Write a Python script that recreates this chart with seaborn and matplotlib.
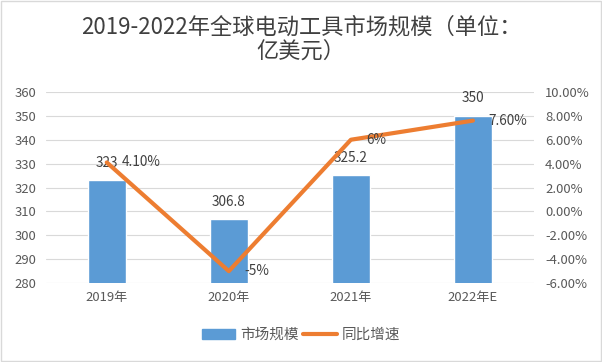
import numpy as np
import pandas as pd
import matplotlib
matplotlib.use("Agg")
import matplotlib.pyplot as plt
import seaborn as sns
from matplotlib.patches import Patch
from matplotlib.lines import Line2D

years = ["2019年", "2020年", "2021年", "2022年E"]
market_size = [323, 306.8, 325.2, 350]
size_labels = ["323", "306.8", "325.2", "350"]
growth = [4.10, -5, 6, 7.60]
growth_labels = ["4.10%", "-5%", "6%", "7.60%"]
left_ticks = [280, 290, 300, 310, 320, 330, 340, 350, 360]
right_ticks = [-6, -4, -2, 0, 2, 4, 6, 8, 10]

sns.set_theme(style="white")
plt.rcParams['font.family'] = ['Noto Sans CJK SC', 'DejaVu Sans']

BLUE = "#5B9BD5"
ORANGE = "#ED7D31"
GRID = "#D9D9D9"
TXT = "#595959"

df = pd.DataFrame({"year": years, "size": market_size, "growth": growth,
                   "pos": np.arange(len(years))})

fig = plt.figure(figsize=(6.02, 3.62), dpi=100)
ax = fig.add_axes([0.076, 0.218, 0.811, 0.528])
ax2 = ax.twinx()

sns.barplot(data=df, x="year", y="size", color=BLUE, width=0.31, ax=ax,
            saturation=1, zorder=2)
ax.set_ylim(280, 360)
ax.set_yticks(left_ticks)
ax.set_xlim(-0.5, 3.5)
ax.grid(axis="y", color=GRID, linewidth=0.8, zorder=0)
ax.set_axisbelow(True)
for s in ax.spines.values():
    s.set_visible(False)
ax.tick_params(axis="both", length=0, labelsize=9.4, labelcolor=TXT)
ax.tick_params(axis="x", pad=6)
ax.tick_params(axis="y", pad=7)
ax.set_xlabel("")
ax.set_ylabel("")

sns.lineplot(data=df, x="pos", y="growth", color=ORANGE, linewidth=3, ax=ax2,
             zorder=3)
ax2.set_ylim(-6, 10)
ax2.set_yticks(right_ticks)
ax2.set_yticklabels([f"{v:.2f}%" for v in right_ticks])
ax2.set_xlim(-0.5, 3.5)
for s in ax2.spines.values():
    s.set_visible(False)
ax2.tick_params(axis="y", length=0, labelsize=9.4, labelcolor=TXT, pad=8)
ax2.set_ylabel("")
ax2.set_xlabel("")
ax2.grid(False)

# bar labels
for i, (v, lab) in enumerate(zip(market_size, size_labels)):
    ax.annotate(lab, xy=(i, v), xytext=(0, 12.5), textcoords="offset points",
                ha="center", va="center", fontsize=9.8, color="#404040",
                zorder=5)
# line labels
for i, (v, lab) in enumerate(zip(growth, growth_labels)):
    ax2.annotate(lab, xy=(i, v), xytext=(11, 0), textcoords="offset points",
                 ha="left", va="center", fontsize=9.8, color="#404040",
                 zorder=5)

fig.text(0.5, 0.925, "2019-2022年全球电动工具市场规模（单位：", ha="center",
         va="center", fontsize=16, color="#404040")
fig.text(0.5, 0.860, "亿美元）", ha="center", va="center", fontsize=16,
         color="#404040")

handles = [Patch(facecolor=BLUE, edgecolor=BLUE),
           Line2D([0], [0], color=ORANGE, linewidth=3)]
fig.legend(handles, ["市场规模", "同比增速"], loc="center",
           bbox_to_anchor=(0.5, 0.075), ncol=2, frameon=False,
           fontsize=10.5, labelcolor=TXT, handlelength=2.3, handletextpad=0.35,
           columnspacing=0.3)

border = plt.Rectangle((0.002, 0.003), 0.996, 0.994, transform=fig.transFigure,
                       fill=False, edgecolor="#D9D9D9", linewidth=1)
fig.patches.append(border)

fig.savefig("out.png", dpi=100, facecolor="white")
